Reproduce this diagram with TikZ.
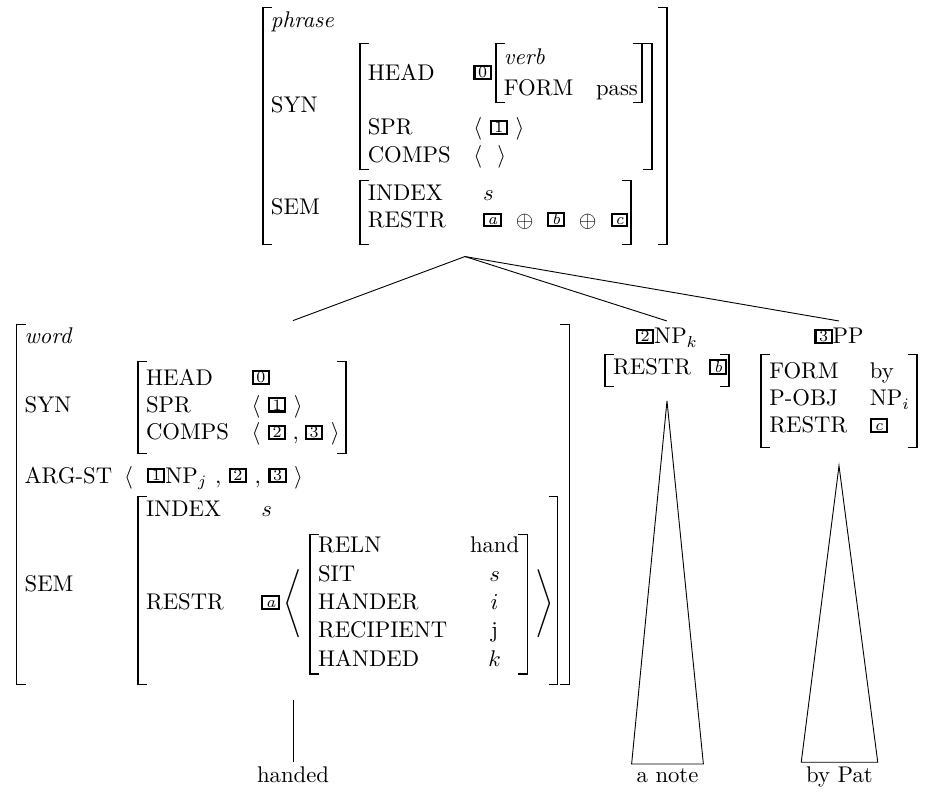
\documentclass[tikz,border=0pt]{standalone}
\usetikzlibrary{calc}
\newcommand\tgbox[1]{\raisebox{1.1pt}{\setlength\fboxrule{0.9pt}\setlength\fboxsep{0pt}\fbox{\rule[-0.2pt]{0pt}{4.6pt}\hspace{1.1pt}{\fontsize{7}{7}\selectfont #1}\hspace{1.1pt}}}}
\newcommand\atr[1]{\textrm{#1}}
\newcommand\gap[1]{\noalign{\vskip#1}}
\newbox\avmbx
\newdimen\avmH \newdimen\avmD
\newdimen\brw \brw=0.75pt
\newdimen\brt \brt=0.45pt
\newdimen\brs \brs=3.6pt
\newdimen\lbgap \lbgap=3.2pt
\newcommand\lbrk[2]{\hbox{\vrule width\brw height #1 depth #2\rlap{\vrule width\brs height #1 depth -\dimexpr#1-\brt\relax}\rlap{\vrule width\brs height -\dimexpr#2-\brt\relax depth #2}\kern\lbgap}}
\newcommand\rbrk[3]{\hbox{\kern#1\llap{\vrule width\brs height #2 depth -\dimexpr#2-\brt\relax}\llap{\vrule width\brs height -\dimexpr#3-\brt\relax depth #3}\vrule width\brw height #2 depth #3}}
% #1 right gap, #2 top pad, #3 bottom pad, #4 column spec, #5 rows
\newcommand\avmb[5]{\setbox\avmbx=\hbox{$\begin{array}{#4}#5\end{array}$}%
  \avmH=\dimexpr\ht\avmbx+#2\relax \avmD=\dimexpr\dp\avmbx+#3\relax
  \lbrk{\avmH}{\avmD}\box\avmbx\rbrk{#1}{\avmH}{\avmD}}
\newcommand\opl{\mskip7mu\oplus\mskip7mu}
\begin{document}
\begin{tikzpicture}[x=0.4405pt,y=-0.4405pt,
  avmnode/.style={inner sep=1.5pt},
  leaf/.style={inner sep=2pt,anchor=base},
  edge/.style={line width=0.4pt}]
\useasboundingbox (0,0) rectangle (932,796);
% root
\node[avmnode,anchor=north] (top) at (465,3.6) {$\avmb{5.9pt}{0.3pt}{0pt}{@{}l@{\hspace{11pt}}l@{}}{%
 \textit{phrase} & \\ \gap{3.5pt}
 \atr{SYN} & \avmb{3.6pt}{0pt}{0pt}{@{}l@{\hspace{10pt}}l@{}}{%
   \atr{HEAD} & \tgbox{0}\kern1.5pt\avmb{1.5pt}{1pt}{0pt}{@{}l@{\hspace{10pt}}l@{}}{\textit{verb} & \\ \gap{1.5pt} \atr{FORM} & \atr{pass}} \\ \gap{5.4pt}
   \atr{SPR} & \langle\ \tgbox{1}\ \rangle \\
   \atr{COMPS} & \langle\ \ \rangle} \\ \gap{4.2pt}
 \atr{SEM} & \avmb{0.8pt}{0.6pt}{4pt}{@{}l@{\hspace{16.5pt}}l@{}}{%
   \atr{INDEX} & s \\
   \atr{RESTR} & \tgbox{\textit{a}}\opl\tgbox{\textit{b}}\opl\tgbox{\textit{c}}}}$};
% word
\node[avmnode,anchor=north] (word) at (293,320.6) {$\avmb{4.5pt}{0pt}{0pt}{@{}l@{\hspace{11pt}}l@{}}{%
 \textit{word} & \\ \gap{4pt}
 \atr{SYN} & \avmb{2.5pt}{2.4pt}{2.6pt}{@{}l@{\hspace{10pt}}l@{}}{%
   \atr{HEAD} & \tgbox{0}\\
   \atr{SPR} & \langle\ \tgbox{1}\ \rangle\\
   \atr{COMPS} & \langle\ \tgbox{2}\;{,}\;\tgbox{3}\ \rangle} \\ \gap{4.6pt}
 \atr{ARG-ST} & \kern-5.7pt\langle\kern3pt\ \tgbox{1}\atr{NP}_j\ {,}\ \tgbox{2}\ {,}\ \tgbox{3}\ \rangle \\ \gap{2pt}
 \atr{SEM} & \avmb{1.5pt}{0.5pt}{4.5pt}{@{}l@{\hspace{16.5pt}}l@{}}{%
   \atr{INDEX} & s\\ \gap{4.1pt}
   \atr{RESTR} & \tgbox{\textit{a}}\left\langle\kern3pt\avmb{3.2pt}{0pt}{0pt}{@{}l@{\hspace{10pt}}c@{}}{%
      \atr{RELN} & \atr{hand}\\ \gap{0.5pt}
      \atr{SIT} & s\\ \gap{0.5pt}
      \atr{HANDER} & i\\ \gap{0.5pt}
      \atr{RECIPIENT} & \atr{j}\\ \gap{0.5pt}
      \atr{HANDED} & k}\kern3pt\right\rangle}}$};
% NP
\node[avmnode,anchor=north] (np) at (667,321) {$\begin{array}{@{}c@{}}\tgbox{2}\atr{NP}_k\\ \gap{0.8pt}
  \avmb{0.5pt}{0.8pt}{1.8pt}{@{}l@{\hspace{8pt}}l@{}}{\atr{RESTR} & \tgbox{\textit{b}}}\end{array}$};
% PP
\node[avmnode,anchor=north] (pp) at (839,321) {$\begin{array}{@{}c@{}}\tgbox{3}\atr{PP}\\ \gap{0.8pt}
  \avmb{2.6pt}{2.4pt}{3pt}{@{}l@{\hspace{10pt}}l@{}}{\atr{FORM} & \atr{by}\\ \atr{P-OBJ} & \atr{NP}_i\\ \atr{RESTR} & \tgbox{\textit{c}}}\end{array}$};
% leaves
\node[leaf] (handed) at (293,783) {handed};
\node[leaf] (anote) at (667.5,783) {a note};
\node[leaf] (bypat) at (839.5,783) {by Pat};
% edge end points just below the matrices
\coordinate (topb) at ($(top.south)+(0,8)$);
\coordinate (wordb) at ($(word.south)+(0,11)$);
\coordinate (npb) at ($(np.south)+(0,10)$);
\coordinate (ppb) at ($(pp.south)+(0,14)$);
\draw[edge] (topb) -- (word.north);
\draw[edge] (topb) -- (np.north);
\draw[edge] (topb) -- (pp.north);
\draw[edge] (wordb) -- (handed.north);
\draw[edge] (npb) -- (anote.north west) -- (anote.north east) -- cycle;
\draw[edge] (ppb) -- (bypat.north west) -- (bypat.north east) -- cycle;
\end{tikzpicture}
\end{document}
